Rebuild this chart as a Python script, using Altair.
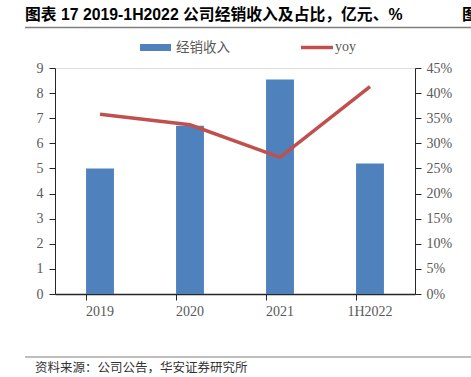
import altair as alt
import pandas as pd

categories = ["2019", "2020", "2021", "1H2022"]
revenue = [5.0, 6.7, 8.54, 5.2]          # 经销收入, 亿元
yoy = [0.358, 0.337, 0.272, 0.413]        # 占比

title_text = "图表 17 2019-1H2022 公司经销收入及占比，亿元、%"
source_text = "资料来源：公司公告，华安证券研究所"
legend_labels = ["经销收入", "yoy"]

df = pd.DataFrame({"cat": categories, "rev": revenue, "yoy": yoy})

W, H = 360, 226
X0, Y0 = 55, 68  # plot origin in page

LABEL = "#595959"
AXIS = "#262626"
serif = "Liberation Serif"
cjk = "Noto Sans CJK SC"

xenc = alt.X("cat:N", sort=categories, title=None,
             scale=alt.Scale(paddingInner=0.69, paddingOuter=0.345),
             axis=alt.Axis(labelAngle=0, labelFont=serif, labelFontSize=14,
                           labelColor=LABEL, domainColor=AXIS, tickColor=AXIS,
                           tickSize=6, bandPosition=0, labelPadding=4,
                           domainWidth=1.5, grid=False))

bars = alt.Chart(df).mark_bar(color="#4F81BD").encode(
    x=xenc,
    y=alt.Y("rev:Q", title=None,
            scale=alt.Scale(domain=[0, 9], nice=False),
            axis=alt.Axis(values=list(range(10)), labelFont=serif, labelFontSize=14,
                          labelColor=LABEL, domainColor=AXIS, tickColor=AXIS,
                          tickSize=6, labelPadding=6, grid=False)),
)

line = alt.Chart(df).mark_line(color="#C0504D", strokeWidth=3.5).encode(
    x=alt.X("cat:N", sort=categories),
    y=alt.Y("yoy:Q", title=None,
            scale=alt.Scale(domain=[0, 0.45], nice=False),
            axis=alt.Axis(orient="right", values=[i * 0.05 for i in range(10)],
                          format=".0%", labelFont=serif, labelFontSize=14,
                          labelColor=LABEL, domainColor=AXIS, tickColor=AXIS,
                          tickSize=6, labelPadding=5, grid=False)),
)

main = alt.layer(bars, line).resolve_scale(y="independent")

one = pd.DataFrame({"a": [0]})


def txt(text, px, py, size, font, color="#000000", weight="normal", align="left", baseline="middle"):
    return alt.Chart(one).mark_text(
        text=text, fontSize=size, font=font, color=color, fontWeight=weight,
        align=align, baseline=baseline
    ).encode(x=alt.value(px - X0), y=alt.value(py - Y0))


def hrule(x1, x2, py, color, width):
    return alt.Chart(one).mark_rule(color=color, strokeWidth=width).encode(
        x=alt.value(x1 - X0), x2=alt.value(x2 - X0), y=alt.value(py - Y0))


title_font = "Liberation Sans, Noto Sans CJK SC"
title = txt(title_text, 25, 15, 15.8, title_font, weight="bold")
title2 = txt("图", 462, 15, 15.8, cjk, weight="bold")
title_line = hrule(25, 471, 27.5, "#7f7f7f", 1.5)
leg_rect = alt.Chart(one).mark_rect(color="#4F81BD").encode(
    x=alt.value(140 - X0), x2=alt.value(171 - X0),
    y=alt.value(44 - Y0), y2=alt.value(51 - Y0))
leg_t1 = txt(legend_labels[0], 176, 47.5, 13.5, cjk, color=LABEL)
leg_line = hrule(301, 333, 47.5, "#C0504D", 3.5)
leg_t2 = txt(legend_labels[1], 335, 47, 14, serif, color=LABEL)
foot_line = hrule(25, 471, 357, "#7f7f7f", 1.2)
foot = txt(source_text, 35, 368, 12.5, cjk, color="#333333")

chart = alt.layer(main, title, title2, title_line, leg_rect, leg_t1, leg_line,
                  leg_t2, foot_line, foot).properties(
    width=W, height=H,
    autosize=alt.AutoSizeParams(type="none"),
    padding={"left": X0, "top": Y0, "right": 471 - X0 - W, "bottom": 377 - Y0 - H},
).configure_view(stroke=None).configure(background="white")

chart.save("out.html", embed_options={"renderer": "svg", "actions": False})
